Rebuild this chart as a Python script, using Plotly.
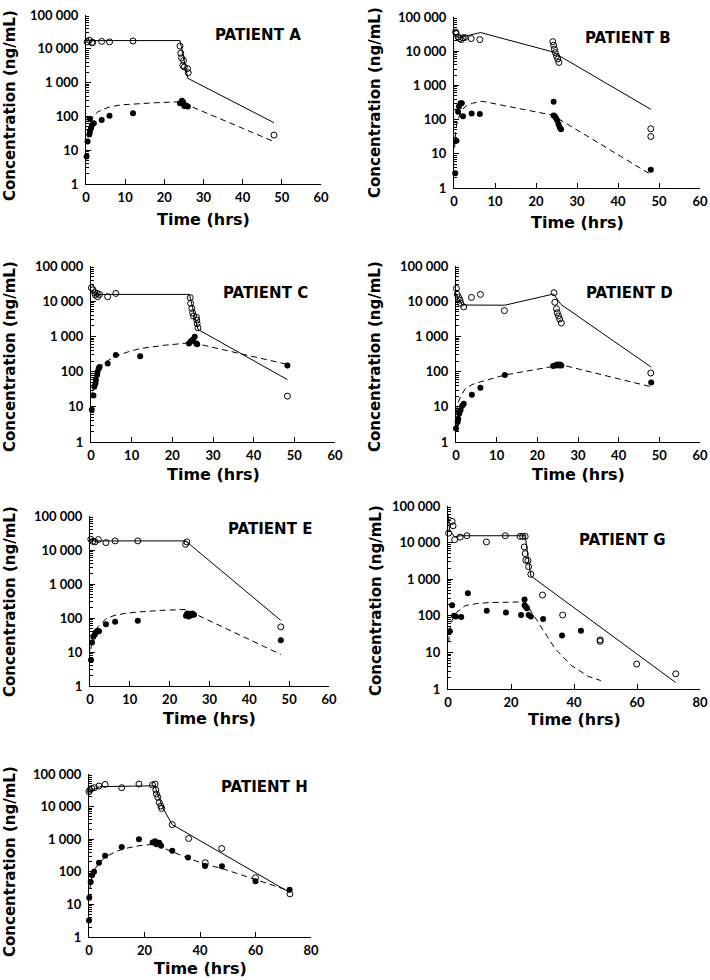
import plotly.graph_objects as go

# time (hrs) / concentration (ng/mL)
# open circles = parent drug, filled circles = metabolite, solid/dashed = model fits

# ---- Patient A ----
A_t_drug = [0.3, 0.85, 1.5, 1.7, 4, 6, 12, 24, 24.2, 24.4, 24.9, 24.7, 25.1, 25.9, 26.1, 48]
A_c_drug = [16000, 18000, 15000, 15500, 16500, 16000, 17000, 12000, 7400, 5400, 4500, 3200, 2900, 2600, 1950, 28]
A_t_drug_fit = [0, 24, 26, 48]
A_c_drug_fit = [17500, 17500, 1340, 65]
A_t_met = [0.15, 0.4, 0.85, 1.0, 1.0, 1.3, 1.5, 2.0, 4, 6, 12, 24, 24.5, 24.8, 25.1, 25.5, 26]
A_c_met = [6.5, 18, 29, 85, 35, 45, 56, 63, 78, 104, 123, 245, 290, 260, 204, 210, 195]
A_t_met_fit = [0.5, 1, 2, 3, 4, 6, 9, 12, 18, 24, 48]
A_c_met_fit = [35, 65, 105, 135, 155, 190, 220, 235, 255, 270, 18]

# ---- Patient B ----
B_t_drug = [0.4, 0.55, 1.0, 1.4, 1.8, 2.2, 2.6, 4.2, 6.3, 24.1, 24.3, 24.5, 24.7, 25.0, 25.3, 25.6, 48, 48]
B_c_drug = [36500, 32500, 26000, 23400, 21800, 24500, 25000, 23400, 21800, 19000, 15000, 11500, 9100, 7200, 5900, 4700, 54, 32]
B_t_drug_fit = [0, 1.2, 6.5, 24, 48]
B_c_drug_fit = [33000, 25000, 35000, 9600, 200]
B_t_met = [0.3, 0.6, 1.0, 1.2, 1.6, 1.9, 2.2, 4.3, 6.3, 24.3, 24.3, 24.6, 24.9, 25.2, 25.5, 25.8, 26.1, 48]
B_c_met = [2.7, 24, 170, 240, 300, 300, 126, 150, 147, 330, 131, 124, 110, 94, 73, 59, 52, 3.4]
B_t_met_fit = [0.15, 0.5, 1, 1.8, 3, 4.5, 6.8, 24, 47.5]
B_c_met_fit = [15, 60, 100, 190, 250, 300, 345, 135, 2.7]

# ---- Patient C ----
C_t_drug = [0.1, 0.5, 0.9, 1.1, 1.5, 1.6, 2.1, 4.1, 6.1, 24.4, 24.5, 24.8, 25.0, 25.2, 25.9, 26.0, 26.1, 26.3, 48.3]
C_c_drug = [24000, 21000, 17500, 15000, 16600, 13400, 15600, 13400, 16600, 12600, 8700, 6300, 4700, 3800, 3500, 2900, 2300, 1750, 20]
C_t_drug_fit = [0, 1.5, 24.2, 26.3, 48.3]
C_c_drug_fit = [20000, 15600, 15600, 1580, 59]
C_t_met = [0.2, 0.6, 0.8, 1.1, 1.2, 1.5, 1.6, 1.9, 2.1, 4.1, 6.1, 12.1, 24.1, 24.6, 25.1, 25.5, 25.9, 26.1, 48.3]
C_c_met = [8.3, 21, 37, 46, 58, 80, 98, 122, 136, 170, 295, 275, 630, 740, 820, 980, 630, 600, 148]
C_t_met_fit = [0.2, 0.5, 1, 2, 4, 6, 9, 12, 18, 24, 26, 48.3]
C_c_met_fit = [18, 40, 75, 130, 200, 270, 360, 450, 560, 650, 620, 160]

# ---- Patient D ----
D_t_drug = [0.1, 0.3, 0.65, 1.0, 1.15, 1.9, 3.8, 6.0, 11.9, 24.1, 24.3, 24.7, 24.9, 25.2, 25.5, 25.9, 47.9]
D_c_drug = [23000, 15600, 12800, 10700, 8700, 6900, 12800, 15600, 5400, 17400, 9300, 6100, 4700, 3800, 3100, 2400, 91]
D_t_drug_fit = [0, 1.5, 12, 24, 25.8, 48]
D_c_drug_fit = [16600, 7800, 7700, 16000, 8100, 134]
D_t_met = [0, 0.4, 0.55, 0.8, 1.1, 1.5, 1.9, 3.9, 6.0, 12.0, 23.9, 24.4, 24.8, 25.2, 25.5, 25.9, 48]
D_c_met = [2.4, 3.7, 4.6, 6.4, 8, 10.5, 12.3, 22, 35, 80, 145, 150, 158, 150, 158, 150, 49]
D_t_met_fit = [0.1, 0.5, 1.1, 2.3, 4, 6, 12, 24, 26, 48]
D_c_met_fit = [7, 13, 19, 33, 43, 51, 80, 145, 155, 37]

# ---- Patient E ----
E_t_drug = [0.2, 0.7, 1.25, 2.1, 4, 6.3, 12, 24, 24.3, 47.9]
E_c_drug = [20700, 18000, 17300, 20300, 16500, 18500, 18500, 14700, 17300, 55]
E_t_drug_fit = [0, 24, 47.9]
E_c_drug_fit = [18500, 18500, 85]
E_t_met = [0.25, 0.5, 0.85, 1.25, 1.5, 1.9, 2.25, 4, 6.3, 12, 24.1, 24.4, 24.8, 25.1, 25.4, 25.7, 26.1, 47.9]
E_c_met = [5.8, 19, 28, 33, 39, 42, 41, 65, 78, 83, 116, 135, 110, 130, 120, 135, 124, 22]
E_t_met_fit = [0.2, 0.5, 1, 2, 4, 6, 9, 12, 18, 24, 47.9]
E_c_met_fit = [12, 22, 35, 55, 95, 118, 138, 150, 168, 178, 8.5]

# ---- Patient G ----
G_t_drug = [0.2, 1.3, 1.6, 2.1, 3.9, 6.0, 12.2, 18.2, 22.9, 23.7, 24.5, 24.2, 24.5, 24.7, 25.4, 25.6, 26.3, 30.0, 36.4, 48.3, 48.3, 59.9, 72.3]
G_c_drug = [18200, 38000, 28800, 12000, 14100, 15400, 10400, 15400, 14800, 14800, 14800, 7600, 5000, 3300, 3200, 2200, 1360, 370, 105, 22, 20, 4.8, 2.6]
G_t_drug_fit = [0, 0.5, 2, 4, 24.5, 26.3, 72.3]
G_c_drug_fit = [60000, 22000, 14500, 15400, 15400, 1230, 1.5]
G_t_met = [0.6, 1.3, 1.9, 2.5, 4.2, 6.3, 12.3, 18.4, 23.2, 24.3, 24.3, 24.7, 25.1, 25.6, 26.3, 30.2, 36.2, 42.2]
G_c_met = [38, 195, 100, 95, 93, 415, 138, 124, 105, 280, 195, 178, 160, 105, 95, 82, 29, 39]
G_t_met_fit = [0.2, 0.6, 1.3, 2.5, 5.5, 9, 13, 18, 24.5, 26.6, 30, 34, 39.3, 44.6, 48.5]
G_c_met_fit = [19, 45, 74, 120, 190, 215, 230, 238, 240, 124, 42, 12.6, 4.3, 2.2, 1.7]

# ---- Patient H ----
H_t_drug = [0, 0.3, 1.0, 2.0, 3.6, 5.8, 11.8, 18.0, 22.9, 23.8, 24.1, 24.3, 24.8, 25.3, 25.9, 26.2, 30.0, 35.9, 41.9, 47.8, 60.0, 72.4]
H_c_drug = [28700, 32200, 36300, 38000, 42800, 48200, 38000, 49300, 45900, 49300, 32200, 24400, 19200, 13400, 10400, 8800, 2800, 1050, 190, 520, 66, 21]
H_t_drug_fit = [0, 3.9, 23.7, 26.5, 30, 72.4]
H_c_drug_fit = [28700, 40800, 43600, 9500, 2800, 23]
H_t_met = [0, 0.1, 0.6, 1.1, 1.8, 3.6, 5.8, 11.8, 18.0, 22.9, 23.8, 24.3, 25.3, 26.0, 30.0, 35.7, 41.8, 47.9, 60.0, 72.3]
H_c_met = [3.2, 16, 49, 79, 100, 190, 310, 580, 1000, 790, 870, 700, 780, 630, 440, 275, 150, 148, 51, 28]
H_t_met_fit = [0.3, 1, 2, 4, 6, 10, 14, 18, 23.5, 30, 36, 42, 48, 60, 72.3]
H_c_met_fit = [30, 70, 120, 200, 290, 430, 540, 630, 700, 410, 255, 170, 125, 58, 26]

y_tickvals = [1, 10, 100, 1000, 10000, 100000]
y_ticktext = ["1", "10", "100", "1 000", "10 000", "100 000"]

W, H = 710, 980
# panel boxes in px: left, right, top, bottom, x max, label pos, x title y, y title x/y
panels = [
    ("A", (86, 321, 15, 184), 60, (258, 35), 219, (10, 106),
     A_t_drug, A_c_drug, A_t_drug_fit, A_c_drug_fit, A_t_met, A_c_met, A_t_met_fit, A_c_met_fit),
    ("B", (454, 700, 17, 188), 60, (628, 38), 222, (375, 103),
     B_t_drug, B_c_drug, B_t_drug_fit, B_c_drug_fit, B_t_met, B_c_met, B_t_met_fit, B_c_met_fit),
    ("C", (91, 335, 266, 442), 60, (265, 293), 474, (10, 357),
     C_t_drug, C_c_drug, C_t_drug_fit, C_c_drug_fit, C_t_met, C_c_met, C_t_met_fit, C_c_met_fit),
    ("D", (456, 700, 266, 442), 60, (629, 293), 474, (375, 357),
     D_t_drug, D_c_drug, D_t_drug_fit, D_c_drug_fit, D_t_met, D_c_met, D_t_met_fit, D_c_met_fit),
    ("E", (90, 329, 516, 686), 60, (270, 529), 718, (10, 602),
     E_t_drug, E_c_drug, E_t_drug_fit, E_c_drug_fit, E_t_met, E_c_met, E_t_met_fit, E_c_met_fit),
    ("G", (448, 700, 506, 689), 80, (622, 540), 719, (376, 601),
     G_t_drug, G_c_drug, G_t_drug_fit, G_c_drug_fit, G_t_met, G_c_met, G_t_met_fit, G_c_met_fit),
    ("H", (89, 311, 774, 937), 80, (264, 787), 968, (10, 862),
     H_t_drug, H_c_drug, H_t_drug_fit, H_c_drug_fit, H_t_met, H_c_met, H_t_met_fit, H_c_met_fit),
]

tick_font = dict(family="Lato", size=13, color="black", weight="bold")
title_font = dict(family="DejaVu Sans", size=16, color="black", weight="bold")

fig = go.Figure()
layout = {}
annotations = []

for i, (name, box, xmax, lab, xt_y, yt, td, cd, tdf, cdf, tm, cm, tmf, cmf) in enumerate(panels):
    n = "" if i == 0 else str(i + 1)
    xa, ya = "x" + n, "y" + n
    l, r, t, b = box

    fig.add_trace(go.Scatter(x=tdf, y=cdf, mode="lines", xaxis=xa, yaxis=ya,
                             line=dict(color="black", width=1), cliponaxis=False))
    fig.add_trace(go.Scatter(x=tmf, y=cmf, mode="lines", xaxis=xa, yaxis=ya,
                             line=dict(color="black", width=1, dash="6px,4px"), cliponaxis=False))
    fig.add_trace(go.Scatter(x=td, y=cd, mode="markers", xaxis=xa, yaxis=ya, cliponaxis=False,
                             marker=dict(symbol="circle-open", size=6, color="black",
                                         line=dict(width=1, color="black"))))
    fig.add_trace(go.Scatter(x=tm, y=cm, mode="markers", xaxis=xa, yaxis=ya, cliponaxis=False,
                             marker=dict(symbol="circle", size=6, color="black")))

    layout["xaxis" + n] = dict(
        domain=[l / W, r / W], anchor=ya, range=[0, xmax], automargin=False,
        tickvals=list(range(0, xmax + 1, 10 if xmax == 60 else 20)),
        ticks="inside", ticklen=5, tickcolor="black", tickwidth=1,
        showline=True, linecolor="black", linewidth=1,
        showgrid=False, zeroline=False, tickfont=tick_font, ticklabelstandoff=1,
    )
    layout["yaxis" + n] = dict(
        domain=[1 - b / H, 1 - t / H], anchor=xa, type="log", range=[0, 5], automargin=False,
        tickvals=y_tickvals, ticktext=y_ticktext,
        ticks="inside", ticklen=5, tickcolor="black", tickwidth=1,
        minor=dict(ticks="inside", ticklen=3, tickcolor="black", dtick="D1"),
        showline=True, linecolor="black", linewidth=1,
        showgrid=False, zeroline=False, tickfont=tick_font, ticklabelstandoff=4,
    )

    annotations.append(dict(text="PATIENT " + name, x=lab[0] / W, y=1 - lab[1] / H,
                            xref="paper", yref="paper", xanchor="center", yanchor="middle",
                            showarrow=False,
                            font=dict(family="DejaVu Sans", size=15, color="black", weight="bold")))
    annotations.append(dict(text="Time (hrs)", x=(l + r) / 2 / W, y=1 - xt_y / H,
                            xref="paper", yref="paper", xanchor="center", yanchor="middle",
                            showarrow=False, font=title_font))
    annotations.append(dict(text="Concentration (ng/mL)", x=yt[0] / W, y=1 - yt[1] / H,
                            xref="paper", yref="paper", xanchor="center", yanchor="middle",
                            showarrow=False, textangle=-90,
                            font=dict(family="DejaVu Sans", size=15, color="black", weight="bold")))

fig.update_layout(
    width=W, height=H,
    margin=dict(l=0, r=0, t=0, b=0),
    paper_bgcolor="white", plot_bgcolor="white",
    showlegend=False,
    annotations=annotations,
    **layout,
)

# drop the browser's default body margin so the figure sits at the page origin
fig.write_html("out.html", config={"displayModeBar": False},
               post_script="document.body.style.margin='0';")
